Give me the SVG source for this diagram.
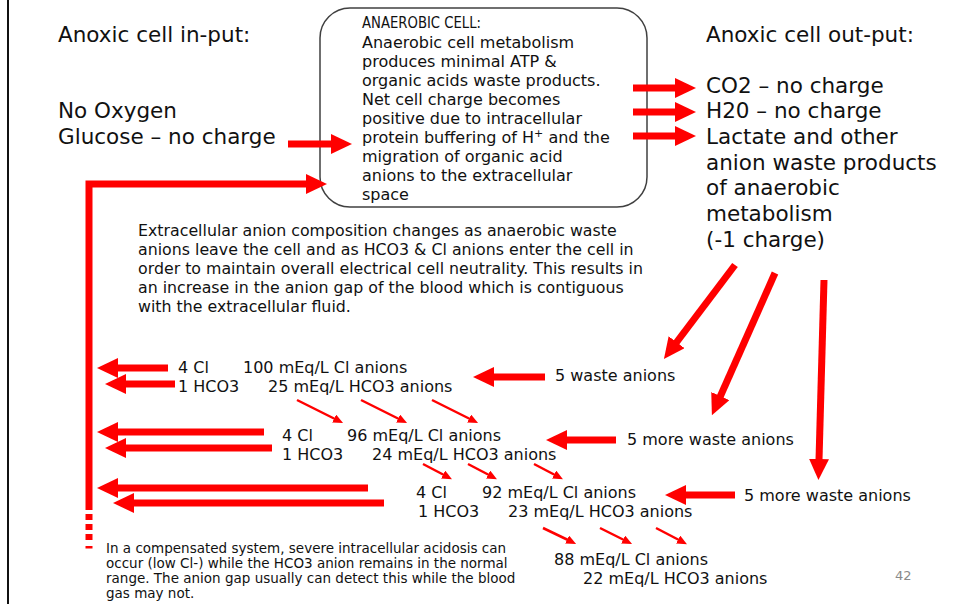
<svg xmlns="http://www.w3.org/2000/svg" width="960" height="604" viewBox="0 0 960 604">
<defs>
<marker id="big" markerUnits="userSpaceOnUse" markerWidth="21" markerHeight="20" viewBox="0 0 21 20" refX="1" refY="10" orient="auto"><path d="M0,0 L21,10 L0,20 z" fill="#ff0000"/></marker>
<marker id="small" markerUnits="userSpaceOnUse" markerWidth="10" markerHeight="9" viewBox="0 0 10 9" refX="1" refY="4.5" orient="auto"><path d="M0,0 L10,4.5 L0,9 z" fill="#ff0000"/></marker>
<style>
text{font-family:"DejaVu Sans","Verdana",sans-serif;fill:#111;}
.h{font-size:21.5px;}
.b{font-size:16px;}
.p{font-size:15.8px;}
.n{font-size:13.5px;}
.big{stroke:#ff0000;stroke-width:7;fill:none;marker-end:url(#big);}
.sm{stroke:#ff0000;stroke-width:2.5;fill:none;marker-end:url(#small);}
</style>
</defs>
<rect width="960" height="604" fill="#ffffff"/>
<rect x="7" y="0" width="2" height="604" fill="#111"/>

<g id="input">
<text class="h" x="58" y="42">Anoxic cell in-put:</text>
<text class="h" x="58" y="118">No Oxygen</text>
<text class="h" x="58" y="144">Glucose – no charge</text>
</g>

<g id="cell">
<rect x="320" y="8" width="327" height="199" rx="30" ry="30" fill="#fff" stroke="#404040" stroke-width="1.5"/>
<text x="362" y="28" style="font-size:15px" textLength="119" lengthAdjust="spacingAndGlyphs">ANAEROBIC CELL:</text>
<text class="b" x="362" y="48">Anaerobic cell metabolism</text>
<text class="b" x="362" y="67">produces minimal ATP &amp;</text>
<text class="b" x="362" y="86">organic acids waste products.</text>
<text class="b" x="362" y="105">Net cell charge becomes</text>
<text class="b" x="362" y="124">positive due to intracellular</text>
<text class="b" x="362" y="143">protein buffering of H<tspan font-size="11" dy="-6">+</tspan><tspan dy="6"> and the</tspan></text>
<text class="b" x="362" y="162">migration of organic acid</text>
<text class="b" x="362" y="181">anions to the extracellular</text>
<text class="b" x="362" y="200">space</text>
</g>

<g id="output">
<text class="h" x="706" y="42">Anoxic cell out-put:</text>
<text class="h" x="706" y="93">CO2 – no charge</text>
<text class="h" x="706" y="118">H20 – no charge</text>
<text class="h" x="706" y="144">Lactate and other</text>
<text class="h" x="706" y="170">anion waste products</text>
<text class="h" x="706" y="195">of anaerobic</text>
<text class="h" x="706" y="221">metabolism</text>
<text class="h" x="706" y="247">(-1 charge)</text>
</g>

<g id="extracellular-note">
<text class="p" x="138" y="236">Extracellular anion composition changes as anaerobic waste</text>
<text class="p" x="138" y="255">anions leave the cell and as HCO3 &amp; Cl anions enter the cell in</text>
<text class="p" x="138" y="274">order to maintain overall electrical cell neutrality. This results in</text>
<text class="p" x="138" y="293">an increase in the anion gap of the blood which is contiguous</text>
<text class="p" x="138" y="312">with the extracellular fluid.</text>
</g>

<g id="row1">
<text class="b" x="178" y="373">4 Cl</text>
<text class="b" x="243" y="373">100 mEq/L Cl anions</text>
<text class="b" x="178" y="392">1 HCO3</text>
<text class="b" x="268" y="392">25 mEq/L HCO3 anions</text>
</g>
<g id="row2">
<text class="b" x="282" y="441">4 Cl</text>
<text class="b" x="347" y="441">96 mEq/L Cl anions</text>
<text class="b" x="282" y="460">1 HCO3</text>
<text class="b" x="372" y="460">24 mEq/L HCO3 anions</text>
</g>
<g id="row3">
<text class="b" x="416" y="498">4 Cl</text>
<text class="b" x="482" y="498">92 mEq/L Cl anions</text>
<text class="b" x="418" y="517">1 HCO3</text>
<text class="b" x="508" y="517">23 mEq/L HCO3 anions</text>
</g>
<g id="row4">
<text class="b" x="554" y="565">88 mEq/L Cl anions</text>
<text class="b" x="583" y="584">22 mEq/L HCO3 anions</text>
</g>

<g id="waste1"><text class="b" x="555" y="381">5 waste anions</text></g>
<g id="waste2"><text class="b" x="627" y="445">5 more waste anions</text></g>
<g id="waste3"><text class="b" x="744" y="501">5 more waste anions</text></g>

<g id="bottom-note">
<text class="n" x="106" y="553">In a compensated system, severe intracellular acidosis can</text>
<text class="n" x="106" y="568">occur (low Cl-) while the HCO3 anion remains in the normal</text>
<text class="n" x="106" y="583">range. The anion gap usually can detect this while the blood</text>
<text class="n" x="106" y="598">gas may not.</text>
</g>

<g id="page-number"><text x="895" y="580" style="font-size:13px;fill:#8a8a8a">42</text></g>

<g id="connectors">
<line class="big" x1="288" y1="144" x2="332" y2="144"/>
<path class="big" d="M89,510 V184 H307" stroke-linejoin="miter"/>
<rect x="85.5" y="514" width="7" height="6" fill="#ff0000"/>
<rect x="85.5" y="524" width="7" height="6" fill="#ff0000"/>
<rect x="85.5" y="534" width="7" height="6" fill="#ff0000"/>
<rect x="85.5" y="546" width="7" height="2.5" fill="#ff0000"/>
<line class="big" x1="633" y1="88" x2="676" y2="88"/>
<line class="big" x1="633" y1="112" x2="676" y2="112"/>
<line class="big" x1="633" y1="136" x2="676" y2="136"/>
<line class="big" x1="735" y1="265" x2="676" y2="343"/>
<line class="big" x1="775" y1="273" x2="720" y2="397"/>
<line class="big" x1="824" y1="280" x2="819" y2="460"/>
<line class="big" x1="545" y1="377" x2="493" y2="377"/>
<line class="big" x1="616" y1="440" x2="566" y2="440"/>
<line class="big" x1="735" y1="495" x2="685" y2="495"/>
<line class="big" x1="168" y1="368" x2="117" y2="368"/>
<line class="big" x1="175" y1="384" x2="125" y2="384"/>
<line class="big" x1="264" y1="432" x2="117" y2="432"/>
<line class="big" x1="272" y1="448" x2="125" y2="448"/>
<line class="big" x1="368" y1="488" x2="117" y2="488"/>
<line class="big" x1="384" y1="503" x2="133" y2="503"/>
<line class="sm" x1="297" y1="400" x2="335" y2="419"/>
<line class="sm" x1="361" y1="400" x2="399" y2="419"/>
<line class="sm" x1="432" y1="400" x2="470" y2="419"/>
<line class="sm" x1="423" y1="464" x2="444" y2="475"/>
<line class="sm" x1="468" y1="464" x2="489" y2="475"/>
<line class="sm" x1="534" y1="464" x2="555" y2="475"/>
<line class="sm" x1="543" y1="528" x2="568" y2="540"/>
<line class="sm" x1="600" y1="528" x2="624" y2="540"/>
<line class="sm" x1="656" y1="528" x2="679" y2="540"/>
</g>
</svg>
